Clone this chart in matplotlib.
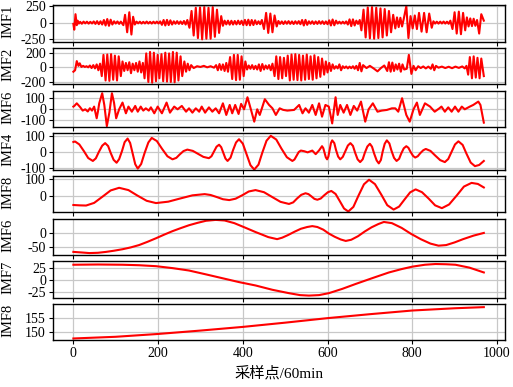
import matplotlib
matplotlib.use('Agg')
import matplotlib.pyplot as plt

plt.rcParams['font.family'] = ['Liberation Serif', 'Noto Sans CJK SC']
plt.rcParams['axes.unicode_minus'] = False

# (sample index, value), one list per panel
imf1_pts = [(0, -20), (2, -110), (5, 130), (8, -40), (10, 30), (13, -15), (16, 12), (20, -18), (24, 15),
            (28, -12), (32, 14), (36, -16), (40, 12), (44, -14), (48, 18), (52, -20), (56, 22), (60, -25),
            (64, 20), (68, -30), (72, 40), (76, -45), (80, 55), (84, -50), (88, 45), (92, -30), (96, 20),
            (100, -15), (104, 18), (108, -20), (112, 15), (118, -40), (122, 120), (127, -150), (132, 160),
            (137, -185), (141, 90), (145, -30), (149, 15), (153, -12), (157, 14), (161, -15), (165, 12),
            (169, -13), (173, 16), (177, -14), (181, 12), (185, -15), (189, 14), (193, -12), (197, 15),
            (201, -14), (205, 18), (209, -35), (213, 40), (217, -45), (221, 42), (225, -38), (229, 35),
            (233, -30), (237, 20), (241, -18), (245, 22), (249, -20), (253, 18), (257, -22), (261, 25),
            (265, -30), (269, 40), (274, -80), (279, 180), (284, -200), (289, 230), (294, -240), (299, 235),
            (304, -260), (309, 240), (314, -250), (319, 230), (324, -250), (329, 240), (334, -220),
            (339, 200), (344, -160), (349, 100), (353, -50), (357, 30), (361, -28), (365, 30), (369, -32),
            (373, 28), (377, -30), (381, 25), (385, -28), (389, 30), (393, -25), (397, 28), (401, -38),
            (405, 42), (409, -40), (413, 45), (417, -42), (421, 40), (425, -38), (429, 35), (433, -25),
            (437, 20), (441, -25), (445, 40), (450, -100), (455, 150), (460, -160), (465, 140), (470, -150),
            (475, 110), (480, -60), (484, 25), (488, -20), (492, 18), (496, -22), (500, 20), (504, -18),
            (508, 22), (512, -20), (516, 18), (520, -22), (524, 20), (528, -18), (532, 22), (536, -25),
            (540, 40), (544, -45), (548, 42), (552, -35), (556, 20), (560, -18), (564, 20), (568, -22),
            (572, 18), (576, -20), (580, 22), (584, -18), (588, 20), (592, -22), (596, 18), (600, -25),
            (604, 35), (608, -45), (612, 48), (616, -42), (620, 30), (624, -15), (628, 14), (632, -16),
            (636, 14), (640, -15), (644, 18), (648, -30), (652, 50), (656, -55), (660, 50), (664, -45),
            (668, 30), (672, -20), (676, 40), (680, -120), (685, 200), (690, -230), (695, 235), (700, -245),
            (705, 240), (710, -250), (715, 230), (720, -240), (725, 220), (730, -230), (735, 210),
            (740, -200), (745, 180), (750, -150), (755, 120), (760, -90), (764, 80), (768, -70), (772, 75),
            (776, -60), (780, 60), (786, 255), (791, -240), (796, 100), (801, -90), (806, 110), (811, -100),
            (816, 150), (822, -140), (828, 150), (834, -150), (840, 140), (846, -80), (850, 20), (854, -15),
            (858, 14), (862, -16), (866, 15), (870, -14), (874, 16), (878, -15), (882, 14), (886, -18),
            (890, 30), (895, -100), (900, 160), (905, -170), (910, 170), (915, -180), (920, 150),
            (925, -120), (929, 80), (933, -60), (937, 65), (941, -55), (945, 60), (949, -50), (953, 40),
            (958, -170), (963, 130), (969, 30)]

imf2_pts = [(0, -60), (4, -40), (8, 85), (12, 20), (15, 55), (19, 5), (23, 20), (27, 5), (31, 15), (35, 0),
            (39, 25), (43, -10), (47, 30), (51, -15), (55, 40), (59, -40), (63, 50), (67, -120), (71, 170),
            (76, -180), (80, 175), (85, -185), (89, 180), (94, -170), (98, 160), (103, -180), (107, 150),
            (112, -120), (116, 80), (120, -50), (124, 60), (128, -40), (132, 70), (136, -80), (140, 50),
            (144, -40), (148, 60), (152, -60), (156, 80), (160, -70), (164, 60), (168, -150), (172, 190),
            (177, -200), (181, 210), (186, -210), (190, 200), (195, -190), (199, 170), (203, -150),
            (208, 180), (212, -190), (217, 200), (221, -195), (226, 190), (230, -200), (235, 210),
            (239, -205), (244, 200), (248, -180), (253, 150), (257, -120), (262, 80), (266, -60), (270, 50),
            (274, -40), (278, 30), (284, -10), (292, 15), (300, 5), (308, 20), (316, 0), (324, 15),
            (332, -5), (337, 30), (341, -40), (345, 45), (349, -35), (353, 40), (357, -50), (361, 60),
            (365, -60), (370, 140), (375, -160), (379, 170), (384, -175), (388, 170), (393, -170),
            (397, 150), (402, -120), (406, 80), (410, -30), (414, 25), (418, -20), (422, 30), (426, -25),
            (430, 20), (434, -30), (438, 40), (442, -50), (446, 45), (450, -30), (454, 25), (458, -20),
            (462, 30), (466, -40), (470, 50), (475, -120), (479, 150), (484, -160), (488, 140),
            (493, -150), (497, 130), (502, -120), (506, 160), (511, -180), (515, 175), (520, -170),
            (524, 180), (529, -175), (533, 170), (538, -180), (542, 160), (547, -170), (551, 175),
            (556, -160), (560, 150), (565, -170), (569, 165), (574, -150), (578, 140), (583, -130),
            (587, 120), (592, -100), (596, 80), (600, -70), (604, 60), (608, -50), (612, 40), (616, -20),
            (620, 15), (624, -15), (628, 40), (632, -40), (636, 15), (640, -10), (644, 12), (648, -15),
            (652, 10), (656, -12), (660, 15), (664, -20), (668, 20), (672, -40), (676, 60), (680, -55),
            (684, 30), (692, -10), (700, 20), (710, -20), (718, -55), (726, -10), (734, 25), (741, -50),
            (745, 70), (749, -60), (753, 65), (757, -50), (761, 40), (765, -30), (769, 50), (773, -60),
            (777, 40), (781, -30), (787, -20), (792, 170), (798, -90), (803, 20), (808, -40), (814, 15),
            (820, -10), (826, 12), (832, -15), (838, 10), (844, -20), (848, 40), (852, -40), (856, 20),
            (862, -5), (870, 10), (878, -10), (886, 8), (894, -12), (902, 10), (910, -8), (918, 12),
            (924, -15), (928, 20), (932, -100), (936, 140), (941, -150), (945, 150), (950, -140),
            (954, 130), (959, -150), (963, 120), (969, -120)]

imf3_pts = [(0, 25), (2, 30), (8, 55), (16, 20), (22, -12), (28, 0), (34, -20), (39, 10), (44, -12),
            (49, 25), (55, -83), (58, -20), (61, 55), (68, 148), (73, 40), (79, -155), (85, -30),
            (91, 148), (96, 60), (101, -83), (108, 0), (116, 62), (124, -37), (130, 25), (138, -22),
            (146, 31), (152, -22), (159, 25), (165, -12), (171, 9), (178, -12), (183, 18), (191, -37),
            (199, 25), (209, -37), (220, 62), (228, -31), (238, 25), (246, 0), (256, 31), (266, -22),
            (273, 9), (281, -31), (289, 9), (297, -22), (303, 25), (311, -31), (320, 18), (328, -22),
            (336, 9), (344, -37), (353, 55), (361, -52), (369, 40), (375, -37), (382, 40), (390, -43),
            (396, 50), (403, 0), (411, 111), (419, 0), (427, -114), (434, 0), (440, -52), (452, 93),
            (462, 40), (470, 9), (478, -52), (487, 9), (495, -5), (505, -12), (521, -6), (533, 40),
            (541, -37), (548, 9), (556, -31), (564, 40), (572, -52), (580, 55), (587, -68), (595, 40),
            (603, 25), (611, -130), (619, 111), (624, -52), (630, 40), (638, -31), (646, 40), (654, -52),
            (662, 31), (670, -12), (679, 71), (689, -114), (697, 0), (707, 55), (718, -22), (728, -12),
            (740, -6), (752, 9), (760, 9), (767, -22), (776, 102), (786, -52), (794, -114), (803, 0),
            (811, 62), (818, -52), (830, 55), (842, 25), (853, -22), (864, 9), (869, 25), (877, -22),
            (885, 18), (893, -22), (901, 25), (909, -22), (917, 25), (924, 0), (936, 25), (944, 40),
            (956, 71), (961, 40), (969, -123)]

imf4_pts = [(0, 62), (4, 65), (14, 47), (25, 5), (35, -37), (46, -55), (53, -39), (60, 0), (68, 39),
            (75, 55), (82, 37), (88, -5), (95, -48), (102, -66), (108, -44), (115, 8), (121, 61),
            (128, 83), (134, 56), (140, -9), (146, -75), (152, -102), (160, -74), (168, -7), (177, 59),
            (185, 87), (197, 68), (209, 21), (222, -26), (234, -45), (243, -36), (251, -15), (260, 6),
            (269, 15), (282, 7), (294, -11), (307, -30), (320, -38), (326, -26), (332, 3), (338, 33),
            (344, 45), (349, 30), (354, -5), (359, -40), (364, -55), (371, -35), (377, 12), (384, 59),
            (391, 79), (400, 52), (409, -14), (418, -81), (427, -108), (437, -78), (446, -4), (456, 70),
            (466, 100), (479, 77), (491, 22), (504, -32), (517, -55), (522, -46), (527, -23), (532, 0),
            (537, 9), (545, 5), (553, -2), (560, 5), (564, 9), (572, -13), (580, 10), (587, 36),
            (590, 24), (593, -4), (596, -33), (599, -45), (602, -28), (605, 13), (608, 55), (611, 72),
            (616, 55), (620, 13), (625, -28), (630, -45), (636, -30), (642, 5), (648, 40), (654, 55),
            (660, 38), (665, -3), (671, -45), (677, -62), (683, -45), (688, -5), (694, 34), (700, 51),
            (705, 33), (710, -9), (716, -52), (721, -70), (726, -49), (730, 1), (735, 51), (740, 72),
            (746, 53), (751, 8), (757, -36), (763, -55), (769, -42), (774, -9), (780, 23), (786, 36),
            (791, 26), (796, 1), (802, -24), (807, -34), (813, -26), (819, -7), (826, 11), (832, 19),
            (843, 7), (854, -21), (866, -50), (877, -62), (885, -43), (893, 2), (901, 47), (909, 66),
            (919, 44), (928, -10), (938, -65), (948, -87), (958, -80), (969, -55)]

imf5_pts = [(0, -50), (15, -52), (30, -53), (49, -38), (69, -2), (88, 33), (108, 48), (130, 35),
            (151, 4), (173, -26), (195, -39), (224, -31), (252, -13), (281, 5), (310, 12), (324, 7),
            (339, -5), (353, -17), (368, -22), (383, -14), (399, 6), (414, 27), (430, 35), (450, 23),
            (469, -4), (489, -32), (509, -44), (519, -35), (528, -13), (538, 8), (548, 17), (555, 12),
            (562, -1), (569, -15), (576, -20), (584, -13), (592, 5), (601, 23), (609, 30), (619, 13),
            (629, -28), (639, -70), (649, -87), (661, -61), (673, 3), (686, 68), (698, 94), (712, 69),
            (727, 9), (741, -51), (756, -76), (769, -59), (782, -18), (795, 22), (808, 39), (823, 23),
            (839, -14), (854, -52), (870, -68), (887, -47), (905, 4), (922, 55), (940, 76), (955, 70),
            (969, 50)]

imf6_pts = [(0, -65), (20, -67), (38, -69), (58, -68), (77, -65), (96, -61), (116, -56), (135, -50),
            (155, -42), (175, -31), (195, -19), (214, -7), (234, 5), (253, 15), (273, 25), (293, 33),
            (313, 40), (336, 43), (357, 41), (380, 32), (407, 16), (430, 2), (446, -7), (460, -15),
            (481, -22), (493, -17), (507, -8), (522, 3), (537, 13), (552, 19), (564, 22), (576, 19),
            (590, 10), (603, -3), (617, -14), (631, -23), (643, -28), (656, -24), (672, -12), (688, 4),
            (704, 18), (720, 29), (733, 36), (752, 32), (775, 16), (797, -4), (820, -22), (843, -37),
            (862, -44), (880, -42), (900, -33), (920, -22), (945, -10), (969, -1)]

imf7_pts = [(0, 31), (58, 31.5), (116, 31), (155, 30), (195, 28), (234, 24), (273, 19), (313, 11),
            (352, 3), (391, -5), (430, -12), (470, -21), (509, -28), (535, -32), (556, -33), (580, -32),
            (603, -28), (635, -19), (666, -9), (705, 3), (745, 15), (775, 22), (800, 27), (830, 31),
            (855, 32.5), (880, 32), (902, 31), (935, 25), (969, 15)]

imf8_pts = [(0, 147.7), (100, 148.3), (200, 149.3), (300, 150.5), (400, 151.8), (500, 153.3),
            (600, 154.9), (700, 156.3), (800, 157.6), (900, 158.4), (969, 158.8)]

panel_labels = ['IMF1', 'IMF2', 'IMF6', 'IMF4', 'IMF8', 'IMF6', 'IMF7', 'IMF8']
panel_yticks = [[-250, 0, 250], [-200, 0, 200], [-100, 0, 100], [-100, 0, 100],
                [0, 100], [-50, 0], [-25, 0, 25], [150, 155]]
panel_ylims = [(-294, 266), (-231, 263), (-162, 171), (-108, 115),
               (-91, 115), (-75, 47), (-37, 38), (147.1, 159.9)]
x_ticks = [0, 200, 400, 600, 800, 1000]


def main():
    series = [imf1_pts, imf2_pts, imf3_pts, imf4_pts, imf5_pts, imf6_pts, imf7_pts, imf8_pts]
    fig, axes = plt.subplots(8, 1, sharex=True, figsize=(5.13, 3.87), dpi=100)
    fig.subplots_adjust(left=0.103, right=0.984, top=0.986, bottom=0.121, hspace=0.18)

    for ax, pts, label, ticks, lim in zip(axes, series, panel_labels, panel_yticks, panel_ylims):
        x, y = zip(*pts)
        ax.plot(x, y, color='red', linewidth=1.5)
        ax.set_ylim(lim)
        ax.set_yticks(ticks)
        ax.set_ylabel(label, fontsize=10.5)
        ax.yaxis.set_label_coords(-0.086, 0.55)
        ax.grid(True, color='#c8c8c8', linewidth=0.9)
        ax.tick_params(labelsize=10, length=3, pad=2)
        for sp in ax.spines.values():
            sp.set_linewidth(1.0)

    axes[-1].set_xlim(-48.5, 1018.5)
    axes[-1].set_xticks(x_ticks)
    axes[-1].set_xlabel('采样点/60min', fontsize=11)

    fig.savefig('out.png', dpi=100)


if __name__ == '__main__':
    main()
